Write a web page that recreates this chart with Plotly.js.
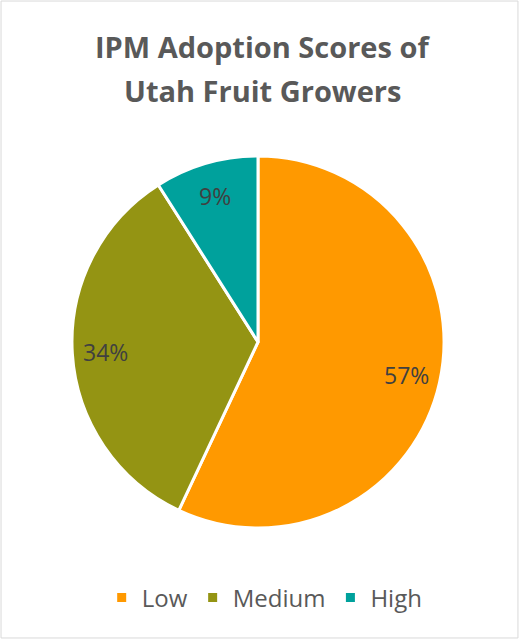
<!DOCTYPE html>
<html><head><meta charset="utf-8">
<script src="https://cdn.plot.ly/plotly-3.0.1.min.js"></script>
<style>html,body{margin:0;padding:0;background:#fff;}#chart{width:519px;height:639px;}</style>
</head><body><div id="chart"></div>
<script>
const categories = ["Low", "Medium", "High"];
const values = [57, 34, 9];
const colors = ["#FF9900", "#949413", "#00A19C"];
const titleLines = ["IPM Adoption Scores of", "Utah Fruit Growers"];

const W = 519, H = 639;
const dom = {x: [0.1387, 0.8555], y: [0.1737, 0.7559]};

const trace = {
  type: "pie",
  labels: categories,
  values: values,
  sort: false,
  direction: "clockwise",
  rotation: 0,
  marker: {colors: colors, line: {color: "#FFFFFF", width: 3}},
  textinfo: "none",
  hoverinfo: "none",
  domain: dom
};

// data labels placed at each slice's mid-angle (derived from the values)
const total = values.reduce((a, b) => a + b, 0);
const cx = (dom.x[0] + dom.x[1]) / 2, cy = (dom.y[0] + dom.y[1]) / 2;
const rPx = Math.min((dom.x[1] - dom.x[0]) * W, (dom.y[1] - dom.y[0]) * H) / 2;
const frac = 0.82;
let cum = 0;
const labelAnns = values.map(v => {
  const mid = (cum + v / 2) / total * 2 * Math.PI;
  cum += v;
  return {
    text: Math.round(v / total * 100) + "%", showarrow: false, xref: "paper", yref: "paper",
    x: cx + frac * rPx * Math.sin(mid) / W, y: cy + frac * rPx * Math.cos(mid) / H,
    xanchor: "center", yanchor: "middle",
    font: {family: "Open Sans, sans-serif", size: 23, color: "#404040"}
  };
});

const titleAnns = titleLines.map((t, i) => ({
  text: "<b>" + t + "</b>", showarrow: false, xref: "paper", yref: "paper",
  x: 0.505, xanchor: "center", y: i === 0 ? 1 - 47 / H : 1 - 90 / H, yanchor: "middle",
  font: {family: "Open Sans, sans-serif", size: 29, color: "#595959"}
}));

const layout = {
  width: W, height: H,
  margin: {l: 0, r: 0, t: 0, b: 0},
  paper_bgcolor: "#FFFFFF",
  annotations: titleAnns.concat(labelAnns),
  showlegend: true,
  legend: {
    orientation: "h", x: 0.51, xanchor: "center", y: 1 - 598 / H, yanchor: "middle",
    font: {family: "Open Sans, sans-serif", size: 24, color: "#595959"},
    itemwidth: 30, traceorder: "normal"
  },
  shapes: [{type: "rect", xref: "paper", yref: "paper", x0: 0.002, x1: 0.998, y0: 0.0016, y1: 0.9984,
            line: {color: "#D9D9D9", width: 1}}]
};

Plotly.newPlot("chart", [trace], layout, {displayModeBar: false, staticPlot: true});
</script></body></html>
